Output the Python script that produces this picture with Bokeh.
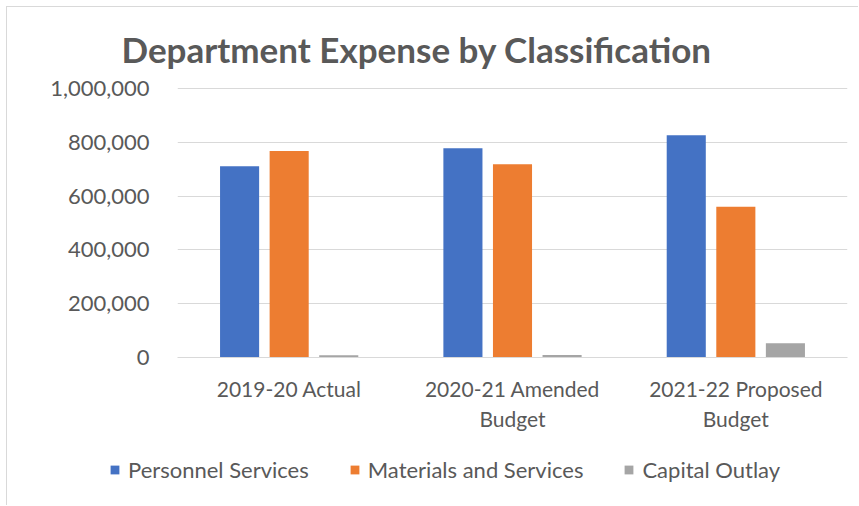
from bokeh.plotting import figure
from bokeh.layouts import column
from bokeh.models import (FactorRange, ColumnDataSource, FixedTicker, NumeralTickFormatter,
                          Legend, LegendItem, Title)
from bokeh.transform import dodge
from bokeh.embed import file_html
from bokeh.resources import INLINE

categories = ["2019-20 Actual", "2020-21 Amended\nBudget", "2021-22 Proposed\nBudget"]
personnel = [711000, 778000, 826000]
materials = [768000, 718000, 560000]
capital = [8000, 9000, 53000]
series_names = ["Personnel Services", "Materials and Services", "Capital Outlay"]
colors = ["#4472C4", "#ED7D31", "#A5A5A5"]
y_ticks = [0, 200000, 400000, 600000, 800000, 1000000]

FONT = "Lato"
TXT = "#595959"

src = ColumnDataSource(dict(cat=categories, ps=personnel, ms=materials, co=capital))

p = figure(x_range=FactorRange(*categories), y_range=(0, 1003700),
           width=851, height=440, output_backend="svg", toolbar_location=None,
           min_border_left=170, min_border_right=11, min_border_top=79, min_border_bottom=90)
t = Title(text="Department Expense by Classification", align="left", offset=-56,
          text_font=FONT, text_font_size="35px", text_font_style="bold",
          text_color=TXT, standoff=36)
p.add_layout(t, "above")

for col, off, c in zip(["ps", "ms", "co"], [-0.222, 0.0, 0.222], colors):
    p.vbar(x=dodge("cat", off, range=p.x_range), top=col, width=0.175, source=src,
           fill_color=c, line_color=None)

p.outline_line_color = None
p.xgrid.grid_line_color = None
p.ygrid.grid_line_color = "#d9d9d9"
p.ygrid.grid_line_width = 1

p.yaxis.ticker = FixedTicker(ticks=y_ticks)
p.yaxis.formatter = NumeralTickFormatter(format="0,0")
p.yaxis.axis_line_color = None
p.yaxis.major_tick_line_color = None
p.yaxis.minor_tick_line_color = None
p.yaxis.major_label_standoff = 22
p.yaxis.major_label_text_font = FONT
p.yaxis.major_label_text_font_size = "22px"
p.yaxis.major_label_text_color = TXT

p.xaxis.axis_line_color = "#d9d9d9"
p.xaxis.major_tick_line_color = None
p.xaxis.minor_tick_line_color = None
p.xaxis.major_label_standoff = 12
p.xaxis.major_label_text_font = FONT
p.xaxis.major_label_text_font_size = "21px"
p.xaxis.major_label_text_color = TXT
p.x_range.range_padding = 0
p.x_range.group_padding = 0

# legend strip (its bars lie outside its y range, only the legend shows)
aligned = "frame_align" in p.properties()
lg = figure(width=851, height=58, output_backend="svg", toolbar_location=None,
            x_range=p.x_range, y_range=(2000000, 3000000),
            x_axis_location=None, y_axis_location=None,
            min_border_left=0, min_border_right=0, min_border_top=0, min_border_bottom=0)
if aligned:
    p.frame_align = False
    lg.frame_align = False
lg.grid.grid_line_color = None
lg.outline_line_color = None
swatches = []
for col, off, c in zip(["ps", "ms", "co"], [-0.222, 0.0, 0.222], colors):
    swatches.append(lg.vbar(x=dodge("cat", off, range=p.x_range), top=col, width=0.175,
                            source=src, fill_color=c, line_color=None))
legend = Legend(items=[LegendItem(label=n, renderers=[r]) for n, r in zip(series_names, swatches)],
                orientation="horizontal", location=(102 if aligned else -68, 22),
                label_text_font=FONT, label_text_font_size="22px", label_text_color=TXT,
                glyph_width=11, glyph_height=11, label_standoff=8, spacing=40,
                border_line_color=None, background_fill_alpha=0, padding=0, margin=0)
lg.add_layout(legend)

layout = column(p, lg, spacing=0)
layout.styles = {"border-top": "1px solid #d9d9d9", "border-left": "1px solid #d9d9d9",
                 "margin-left": "6px", "margin-top": "6px"}

open("out.html", "w").write(file_html(layout, INLINE))
